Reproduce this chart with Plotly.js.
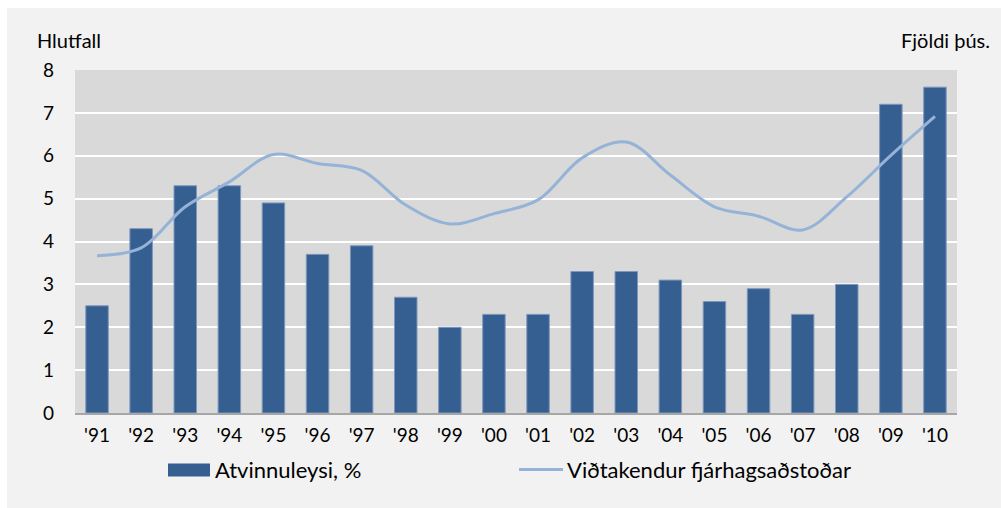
<!DOCTYPE html>
<html>
<head>
<meta charset="utf-8">
<script src="https://cdn.plot.ly/plotly-3.0.1.min.js"></script>
<style>
html,body{margin:0;padding:0;background:#ffffff;}
#chart{position:absolute;left:7px;top:8px;width:994px;height:500px;}
</style>
</head>
<body>
<div id="chart"></div>
<script>
const years = ["'91","'92","'93","'94","'95","'96","'97","'98","'99","'00","'01","'02","'03","'04","'05","'06","'07","'08","'09","'10"];
const unemployment = [2.5,4.3,5.3,5.3,4.9,3.7,3.9,2.7,2.0,2.3,2.3,3.3,3.3,3.1,2.6,2.9,2.3,3.0,7.2,7.6];
const recipients = [3.67,3.85,4.81,5.39,6.03,5.82,5.66,4.85,4.41,4.65,4.97,5.95,6.32,5.55,4.81,4.59,4.27,5.04,6.01,6.92];
const barName = "Atvinnuleysi, %";
const lineName = "Viðtakendur fjárhagsaðstoðar";
const leftTitle = "Hlutfall";
const rightTitle = "Fjöldi þús.";

const font = "Lato, Open Sans, sans-serif";
const barColor = "#365f91";
const lineColor = "#95b3d7";

// plot area in page pixels (for paper-coordinate helpers)
const PL = 75, PR = 957, PT = 70, PB = 413.5;
const px = x => (x - PL) / (PR - PL);
const py = y => (PB - y) / (PB - PT);

const traces = [
  {type:"bar", x:years, y:unemployment, name:barName, width:0.51,
   marker:{color:barColor, line:{color:"#7d98bd", width:1}}, showlegend:false},
  {type:"scatter", mode:"lines", x:years, y:recipients, name:lineName, yaxis:"y2",
   line:{color:lineColor, width:3, shape:"spline", smoothing:1}, showlegend:false}
];

const layout = {
  width:994, height:500,
  paper_bgcolor:"#f2f2f2", plot_bgcolor:"#d9d9d9",
  margin:{l:68, r:44, t:62, b:94.5, pad:0},
  font:{family:font, size:19, color:"#000"},
  showlegend:false,
  xaxis:{type:"category", range:[-0.5,19.5], showgrid:false, showline:true, linecolor:"#a6a6a6", linewidth:1.5,
         ticks:"", ticklabelstandoff:5, tickfont:{size:19}, fixedrange:true},
  yaxis:{range:[0,8], dtick:1, showgrid:true, gridcolor:"#ffffff", gridwidth:2, zeroline:false,
         ticks:"", ticklabelstandoff:20, tickfont:{size:19}, fixedrange:true},
  yaxis2:{range:[0,8], overlaying:"y", side:"right", showgrid:false, showticklabels:false, zeroline:false, ticks:"", fixedrange:true},
  bargap:0.49,
  annotations:[
    {xref:"paper", yref:"paper", x:px(35), y:py(40), xanchor:"left", yanchor:"middle", text:leftTitle, showarrow:false, font:{size:20}},
    {xref:"paper", yref:"paper", x:px(992), y:py(40), xanchor:"right", yanchor:"middle", text:rightTitle, showarrow:false, font:{size:20}},
    {xref:"paper", yref:"paper", x:px(213), y:py(470), xanchor:"left", yanchor:"middle", text:barName, showarrow:false, font:{size:22}},
    {xref:"paper", yref:"paper", x:px(565), y:py(470), xanchor:"left", yanchor:"middle", text:lineName, showarrow:false, font:{size:22}}
  ],
  shapes:[
    {type:"rect", xref:"paper", yref:"paper", x0:px(168), x1:px(210), y0:py(464), y1:py(477),
     fillcolor:barColor, line:{width:0}},
    {type:"line", xref:"paper", yref:"paper", x0:px(519), x1:px(563), y0:py(470), y1:py(470),
     line:{color:lineColor, width:3}}
  ]
};

Plotly.newPlot("chart", traces, layout, {displayModeBar:false, staticPlot:true});
</script>
</body>
</html>
